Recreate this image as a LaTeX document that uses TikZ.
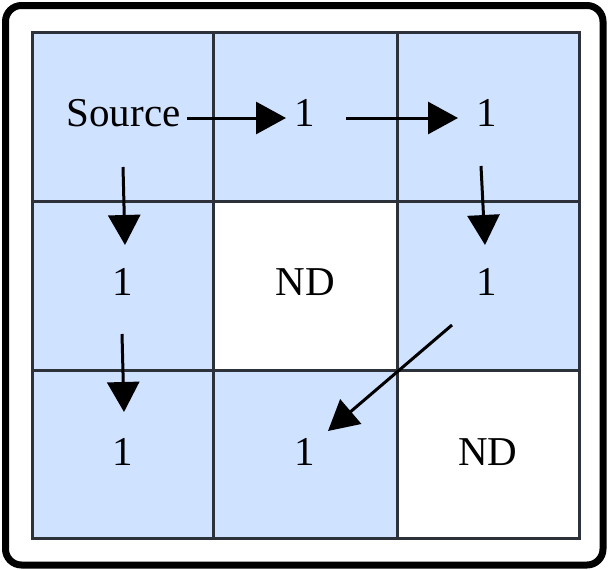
\documentclass[tikz,border=0pt]{standalone}
\usepackage{fontspec}
\setmainfont{Liberation Serif}
\usetikzlibrary{arrows.meta}
\definecolor{cellblue}{RGB}{207,226,255}
\definecolor{gridgray}{RGB}{45,50,58}
\begin{document}
\begin{tikzpicture}[x=1pt,y=-1pt,
  frame/.style={draw=black,line width=7pt,rounded corners=16pt},
  cell/.style={draw=gridgray,line width=3pt},
  bluecell/.style={cell,fill=cellblue},
  whitecell/.style={cell,fill=white},
  lbl/.style={font=\fontsize{41}{49}\selectfont,inner sep=0pt,anchor=base},
  arr/.style={draw=black,line width=3pt,-{Triangle[length=30pt,width=32pt]}}]
\useasboundingbox (0,0) rectangle (608,570);
\fill[white] (0,0) rectangle (608,570);
\draw[frame] (5.5,5.5) rectangle (603,565);
% cells
\path[bluecell] (32,32) rectangle (213,201);
\path[bluecell] (213,32) rectangle (397,201);
\path[bluecell] (397,32) rectangle (579,201);
\path[bluecell] (32,201) rectangle (213,370);
\path[whitecell] (213,201) rectangle (397,370);
\path[bluecell] (397,201) rectangle (579,370);
\path[bluecell] (32,370) rectangle (213,538);
\path[bluecell] (213,370) rectangle (397,538);
\path[whitecell] (397,370) rectangle (579,538);
% labels
\node[lbl] (src) at (123.5,126) {Source};
\node[lbl] (a12) at (305,126) {1};
\node[lbl] (a13) at (487,126) {1};
\node[lbl] (a21) at (123,295) {1};
\node[lbl] (a22) at (305.5,295) {ND};
\node[lbl] (a23) at (487,295) {1};
\node[lbl] (a31) at (123,465) {1};
\node[lbl] (a32) at (305,465) {1};
\node[lbl] (a33) at (488,465) {ND};
% arrow end points
\coordinate (p1s) at (187,118);
\coordinate (p1e) at (286,118);
\coordinate (p2s) at (346,118);
\coordinate (p2e) at (458,118);
\coordinate (p3s) at (123,167);
\coordinate (p3e) at (125,245);
\coordinate (p4s) at (481,166);
\coordinate (p4e) at (485,245);
\coordinate (p5s) at (122,334);
\coordinate (p5e) at (124,412);
\coordinate (p6s) at (452,325);
\coordinate (p6e) at (328,431);
\draw[arr] (p1s) -- (p1e);
\draw[arr] (p2s) -- (p2e);
\draw[arr] (p3s) -- (p3e);
\draw[arr] (p4s) -- (p4e);
\draw[arr] (p5s) -- (p5e);
\draw[arr] (p6s) -- (p6e);
\end{tikzpicture}
\end{document}
